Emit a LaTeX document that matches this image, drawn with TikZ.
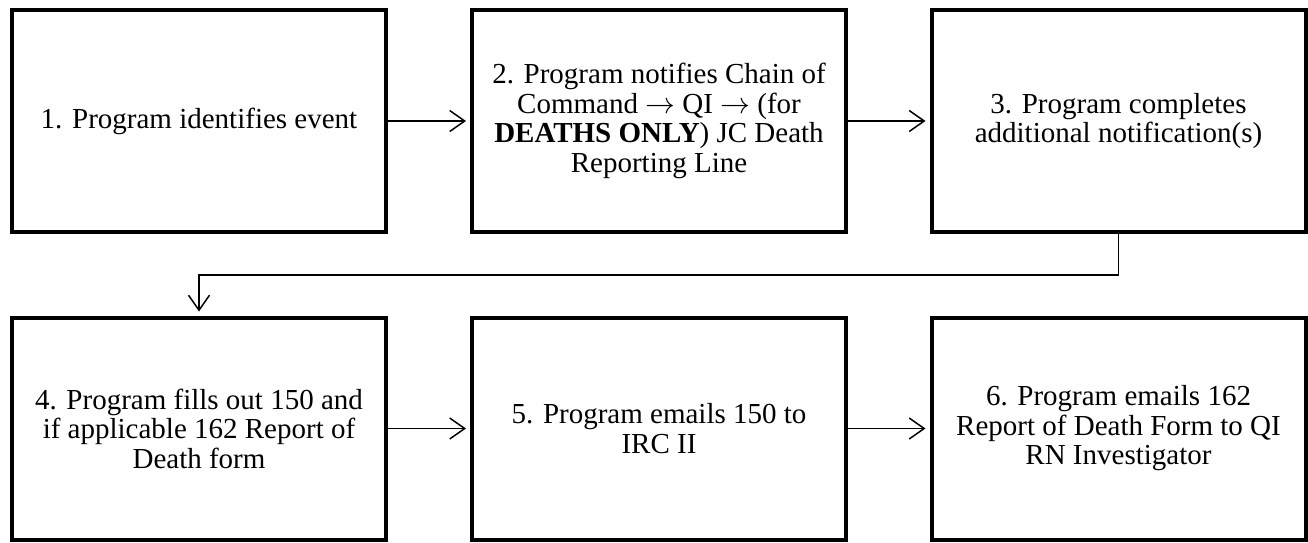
\documentclass[tikz,border=0pt]{standalone}
\usepackage{fontspec}
\usepackage{graphicx}
\setmainfont{Liberation Serif}
\newcommand{\flowarrow}{\smash{\scalebox{1.2}{$\rightarrow$}}}
\usetikzlibrary{arrows.meta}
\begin{document}
\begin{tikzpicture}[x=1pt,y=-1pt,
  stepbox/.style={draw=black,line width=4pt,minimum width=374pt,minimum height=222pt,
    inner sep=0pt,align=center,font=\fontsize{29}{29.5}\selectfont},
  flow/.style={line width=1.5pt,-{Straight Barb[length=15pt,width=21pt,line width=1.5pt]},
    shorten >=4pt}]
\useasboundingbox (0,0) rectangle (1308,542);
% top row
\node[stepbox] (n1) at (199,121) {1. Program identifies event};
\node[stepbox] (n2) at (659,121) {2. Program notifies Chain of\\Command \flowarrow{} QI \flowarrow{} (for\\\textbf{DEATHS ONLY}) JC Death\\Reporting Line};
\node[stepbox] (n3) at (1118.5,121) {3. Program completes\\additional notification(s)};
% bottom row
\node[stepbox] (n4) at (199,428.5) {4. Program fills out 150 and\\if applicable 162 Report of\\Death form};
\node[stepbox] (n5) at (659,428.5) {5. Program emails 150 to\\IRC II};
\node[stepbox] (n6) at (1118.5,428.5) {6. Program emails 162\\Report of Death Form to QI\\RN Investigator};
% level of the return line between the rows
\coordinate (turn) at (0,275);
% connectors
\draw[flow] (n1) -- (n2);
\draw[flow] (n2) -- (n3);
\draw[flow] (n3.south) -- (n3.south |- turn) -| (n4.north);
\draw[flow] (n4) -- (n5);
\draw[flow] (n5) -- (n6);
\end{tikzpicture}
\end{document}
